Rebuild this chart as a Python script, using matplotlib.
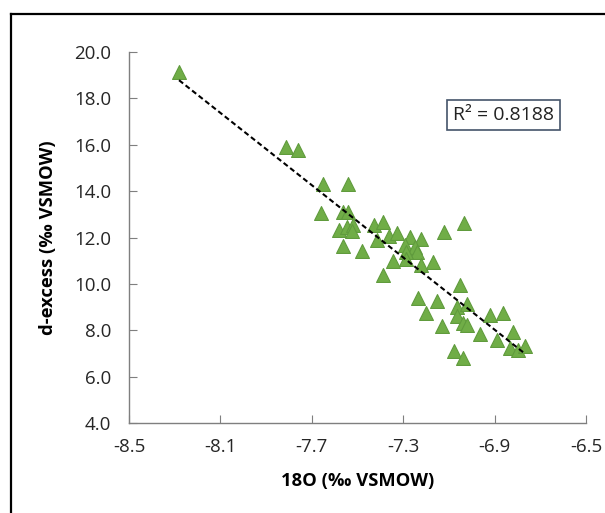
import numpy as np
import matplotlib
matplotlib.use("Agg")
import matplotlib.pyplot as plt
from matplotlib.lines import Line2D

plt.rcParams['font.family'] = ['Open Sans', 'DejaVu Sans']

# d18O and d-excess readings (per mil VSMOW)
d18o = [-8.281, -7.813, -7.760, -7.651, -7.542, -7.661, -7.562, -7.540,
        -7.580, -7.548, -7.521, -7.526, -7.428, -7.390, -7.416, -7.361,
        -7.329, -7.270, -7.220, -7.292, -7.249, -7.241, -7.288, -7.562,
        -7.482, -7.343, -7.288, -7.220, -7.169, -7.390, -7.122, -7.034,
        -7.051, -7.234, -7.151, -7.200, -7.066, -7.019, -7.066, -7.040,
        -7.019, -7.132, -6.964, -6.920, -6.862, -6.891, -6.821, -6.833,
        -6.796, -6.767, -7.078, -7.040]
dexcess = [19.14, 15.90, 15.77, 14.31, 14.31, 13.07, 13.11, 13.11,
           12.32, 12.47, 12.54, 12.30, 12.54, 12.68, 11.89, 12.07,
           12.21, 12.04, 11.92, 11.68, 11.61, 11.39, 11.39, 11.63,
           11.43, 11.00, 11.06, 10.81, 10.96, 10.38, 12.25, 12.61,
           9.95, 9.38, 9.28, 8.76, 9.02, 9.13, 8.62, 8.30,
           8.23, 8.18, 7.84, 8.66, 8.76, 7.58, 7.94, 7.22,
           7.15, 7.32, 7.12, 6.79]
r2_label = "R\u00b2 = 0.8188"

x_ticks = [-8.5, -8.1, -7.7, -7.3, -6.9, -6.5]
y_ticks = [4, 6, 8, 10, 12, 14, 16, 18, 20]

fig = plt.figure(figsize=(6.05, 5.13), dpi=100)
ax = fig.add_axes([0.2132, 0.1754, 0.7554, 0.7232])

# black frame around the chart (cut off at right and bottom)
fx = 11 / 605
fy = 1 - 14 / 513
fig.add_artist(Line2D([fx, 1.01], [fy, fy], color='black', lw=1.6, transform=fig.transFigure))
fig.add_artist(Line2D([fx, fx], [fy, -0.01], color='black', lw=1.6, transform=fig.transFigure))

ax.scatter(d18o, dexcess, marker='^', s=100, facecolor='#70AD47',
           edgecolor='#609B3D', linewidth=0.8, zorder=2)

# linear trend line
slope, icpt = np.polyfit(d18o, dexcess, 1)
xs = np.array([min(d18o), max(d18o)])
ax.plot(xs, slope * xs + icpt, color='black', lw=1.5,
        linestyle=(0, (2.5, 1.5)), zorder=3)

ax.set_xlim(-8.5, -6.5)
ax.set_ylim(4, 20)
ax.set_xticks(x_ticks)
ax.set_xticklabels([f"{v:.1f}" for v in x_ticks])
ax.set_yticks(y_ticks)
ax.set_yticklabels([f"{v:.1f}" for v in y_ticks])

for side in ['top', 'right']:
    ax.spines[side].set_visible(False)
for side in ['left', 'bottom']:
    ax.spines[side].set_color('#7f7f7f')
    ax.spines[side].set_linewidth(1.0)

ax.tick_params(axis='both', direction='in', length=6, color='#7f7f7f',
               labelsize=13.5, labelcolor='#262626')
ax.tick_params(axis='y', pad=13)
ax.tick_params(axis='x', pad=11)

ax.set_xlabel("18O (\u2030 VSMOW)", fontsize=13.2, fontweight='bold', labelpad=11)
ax.set_ylabel("d-excess (\u2030 VSMOW)", fontsize=13.2, fontweight='bold', labelpad=12)

ax.text(0.8195, 0.830, r2_label, transform=ax.transAxes, fontsize=14,
        ha='center', va='center', color='#222222',
        bbox=dict(boxstyle='square,pad=0.3', facecolor='white',
                  edgecolor='#44546A', linewidth=1.2))

fig.savefig("out.png", dpi=100)
